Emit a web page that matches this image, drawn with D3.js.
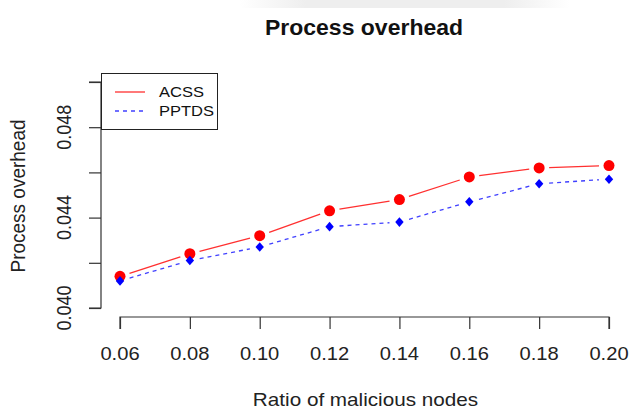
<!DOCTYPE html>
<html><head><meta charset="utf-8">
<script src="https://cdn.jsdelivr.net/npm/d3@7/dist/d3.min.js"></script>
<style>body{margin:0;background:#fff}svg{display:block;font-family:"Liberation Sans",Arial,sans-serif}</style>
</head><body>
<svg id="c" width="631" height="408"></svg>
<script>
const ratios = [0.06, 0.08, 0.10, 0.12, 0.14, 0.16, 0.18, 0.20];
const acss = [0.0414, 0.0424, 0.0432, 0.0443, 0.0448, 0.0458, 0.0462, 0.0463];
const pptds = [0.0412, 0.0421, 0.0427, 0.0436, 0.0438, 0.0447, 0.0455, 0.0457];
const yTicks = [0.040, 0.042, 0.044, 0.046, 0.048, 0.050];
const yLabels = [0.040, 0.044, 0.048];
const seriesNames = ["ACSS", "PPTDS"];

const svg = d3.select("#c");
// faint background watermark at top
const g0 = svg.append("defs").append("linearGradient").attr("id","wm").attr("x1",0).attr("x2",1);
g0.append("stop").attr("offset",0).attr("stop-color","#fff");
g0.append("stop").attr("offset",0.2).attr("stop-color","#eeeeee");
g0.append("stop").attr("offset",0.8).attr("stop-color","#eeeeee");
g0.append("stop").attr("offset",1).attr("stop-color","#fff");
svg.append("rect").attr("x",240).attr("y",0).attr("width",330).attr("height",8).attr("fill","url(#wm)");

const x = d3.scaleLinear().domain([0.06, 0.20]).range([120, 609]);
const y = d3.scaleLinear().domain([0.040, 0.050]).range([308, 82]);

// axes
const xAxis = svg.append("g").attr("transform","translate(0,317)")
  .call(d3.axisBottom(x).tickValues(ratios).tickSize(12).tickFormat(""));
const yAxis = svg.append("g").attr("transform","translate(101,0)")
  .call(d3.axisLeft(y).tickValues(yTicks).tickSize(12).tickFormat(""));
[xAxis, yAxis].forEach(a => {
  a.select(".domain").attr("stroke","#333").attr("stroke-width",1.2);
  a.selectAll(".tick line").attr("stroke","#333").attr("stroke-width",1.2);
});
xAxis.select(".domain").attr("d", `M${x(0.06)},12V0H${x(0.20)}V12`);
yAxis.select(".domain").attr("d", `M-12,${y(0.050)}H0V${y(0.040)}H-12`);

svg.append("g").selectAll("text").data(ratios).join("text")
  .attr("transform", d => `translate(${x(d)},359.5) scale(1.12,1)`)
  .attr("text-anchor","middle").attr("font-size",18).attr("fill","#222")
  .text(d => d3.format(".2f")(d));

svg.append("g").selectAll("text").data(yLabels).join("text")
  .attr("transform", d => `translate(71,${y(d)}) rotate(-90) scale(1,1.08)`)
  .attr("text-anchor","middle").attr("font-size",18).attr("fill","#222")
  .text(d => d3.format(".3f")(d));

// titles
svg.append("text").attr("transform","translate(364,35) scale(1.045,1)").attr("text-anchor","middle")
  .attr("font-size",22).attr("font-weight","bold").attr("fill","#111").text("Process overhead");
svg.append("text").attr("transform","translate(365.5,405.5) scale(1.15,1)").attr("text-anchor","middle")
  .attr("font-size",18).attr("fill","#222").text("Ratio of malicious nodes");
svg.append("text").attr("transform","translate(25,196) rotate(-90) scale(1,1.08)").attr("text-anchor","middle")
  .attr("font-size",19).attr("fill","#222").text("Process overhead");

// type="b" style gapped segments
function segs(vals){
  const pts = vals.map((v,i)=>[x(ratios[i]), y(v)]);
  const out = [];
  for (let i=0;i<pts.length-1;i++){
    const [x1,y1]=pts[i],[x2,y2]=pts[i+1];
    const L=Math.hypot(x2-x1,y2-y1), g=10;
    if (L>2*g) out.push([x1+(x2-x1)*g/L, y1+(y2-y1)*g/L, x2-(x2-x1)*g/L, y2-(y2-y1)*g/L]);
  }
  return out;
}
svg.append("g").selectAll("line").data(segs(acss)).join("line")
  .attr("x1",d=>d[0]).attr("y1",d=>d[1]).attr("x2",d=>d[2]).attr("y2",d=>d[3])
  .attr("stroke","#ff3030").attr("stroke-width",1.3);
svg.append("g").selectAll("line").data(segs(pptds)).join("line")
  .attr("x1",d=>d[0]).attr("y1",d=>d[1]).attr("x2",d=>d[2]).attr("y2",d=>d[3])
  .attr("stroke","#4040ff").attr("stroke-width",1.3).attr("stroke-dasharray","4,4");

svg.append("g").selectAll("circle").data(acss).join("circle")
  .attr("cx",(d,i)=>x(ratios[i])).attr("cy",d=>y(d)).attr("r",5.5).attr("fill","#ff0000");
svg.append("g").selectAll("path").data(pptds).join("path")
  .attr("transform",(d,i)=>`translate(${x(ratios[i])},${y(d)})`)
  .attr("d","M0,-4.8L4.2,0L0,4.8L-4.2,0Z").attr("fill","#0000ff");

// legend
const lg = svg.append("g");
lg.append("rect").attr("x",101.5).attr("y",73.5).attr("width",116).attr("height",56)
  .attr("fill","#fff").attr("stroke","#222").attr("stroke-width",1);
const ly = [92, 111];
lg.append("line").attr("x1",115).attr("x2",145).attr("y1",ly[0]).attr("y2",ly[0])
  .attr("stroke","#ff3030").attr("stroke-width",1.3);
lg.append("line").attr("x1",115).attr("x2",145).attr("y1",ly[1]).attr("y2",ly[1])
  .attr("stroke","#4040ff").attr("stroke-width",1.3).attr("stroke-dasharray","4,4");
lg.selectAll("text").data(seriesNames).join("text")
  .attr("transform",(d,i)=>`translate(159,${ly[i]}) scale(1.1,1)`).attr("dy","0.36em")
  .attr("font-size",15).attr("fill","#111").text(d=>d);
</script>
</body></html>
